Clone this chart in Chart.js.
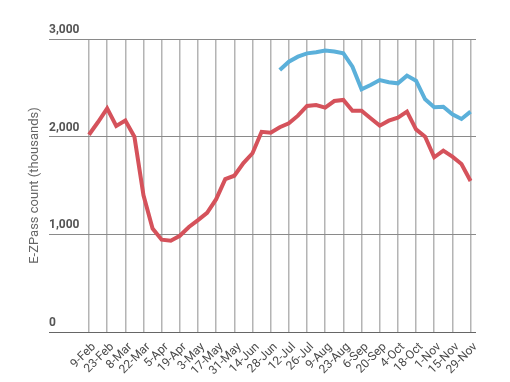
<!DOCTYPE html>
<html><head><meta charset="utf-8">
<script src="https://cdn.jsdelivr.net/npm/chart.js@4/dist/chart.umd.min.js"></script>
<style>html,body{margin:0;padding:0;background:#fff}#wrap{width:510px;height:382px}</style>
</head><body><div id="wrap"><canvas id="c"></canvas></div>
<script>
const weeks = ["9-Feb","16-Feb","23-Feb","1-Mar","8-Mar","15-Mar","22-Mar","29-Mar","5-Apr","12-Apr","19-Apr","26-Apr","3-May","10-May","17-May","24-May","31-May","7-Jun","14-Jun","21-Jun","28-Jun","5-Jul","12-Jul","19-Jul","26-Jul","2-Aug","9-Aug","16-Aug","23-Aug","30-Aug","6-Sep","13-Sep","20-Sep","27-Sep","4-Oct","11-Oct","18-Oct","25-Oct","1-Nov","8-Nov","15-Nov","22-Nov","29-Nov"];
const count2020 = [2020,2150,2290,2110,2165,2000,1400,1060,945,935,985,1075,1145,1220,1360,1565,1600,1730,1830,2050,2040,2096,2137,2215,2314,2324,2297,2365,2376,2266,2266,2188,2113,2164,2195,2256,2075,2000,1789,1857,1795,1720,1546];
const count2019 = [null,null,null,null,null,null,null,null,null,null,null,null,null,null,null,null,null,null,null,null,null,2683,2768,2819,2853,2864,2881,2871,2853,2717,2485,2529,2580,2557,2546,2625,2573,2383,2301,2307,2229,2181,2256];
const yTicks = [0,1000,2000,3000];

const toPts = arr => arr.map((v,i)=>({x:i,y:v}));
const font = "Roboto, 'Liberation Sans', sans-serif";

new Chart(document.getElementById('c'), {
  type: 'line',
  data: { datasets: [
    { label: '2019', data: toPts(count2019), borderColor: '#5bb0da', borderWidth: 4, pointRadius: 0, tension: 0, spanGaps: false },
    { label: '2020', data: toPts(count2020), borderColor: '#d5525b', borderWidth: 4, pointRadius: 0, tension: 0 }
  ]},
  options: {
    responsive: true, maintainAspectRatio: false, animation: false,
    layout: { padding: { top: 39, right: 34, left: 0, bottom: 0 } },
    plugins: { legend: { display: false }, tooltip: { enabled: false } },
    scales: {
      x: {
        type: 'linear', min: -4.4, max: 42.6,
        afterBuildTicks: s => { s.ticks = weeks.map((w,i)=>({value:i})).filter(t=>t.value%2===0); },
        afterFit: s => { s.height = 50; },
        border: { display: false },
        grid: { color: '#b4b4b4', lineWidth: 1.5, drawTicks: false },
        ticks: { autoSkip: false, minRotation: 45, maxRotation: 45, padding: 8, labelOffset: 5, color: '#4a4a4a',
          font: { family: font, size: 12 }, callback: v => weeks[v] }
      },
      y: {
        min: 0, max: 3000,
        afterBuildTicks: s => { s.ticks = yTicks.map(v=>({value:v})); },
        afterFit: s => { s.width = 49; },
        border: { display: false },
        grid: { color: ctx => ctx.tick && ctx.tick.value === 0 ? '#666' : '#8a8a8a', lineWidth: 1, drawTicks: false },
        ticks: { mirror: true, padding: 0, labelOffset: -9, color: '#555',
          font: { family: font, size: 12, weight: 'bold' },
          callback: v => v.toLocaleString('en-US') },
        title: { display: true, text: 'E-ZPass count (thousands)', color: '#666',
          font: { family: font, size: 13 }, padding: { top: 27, bottom: 0 } }
      }
    }
  }
});
</script></body></html>
